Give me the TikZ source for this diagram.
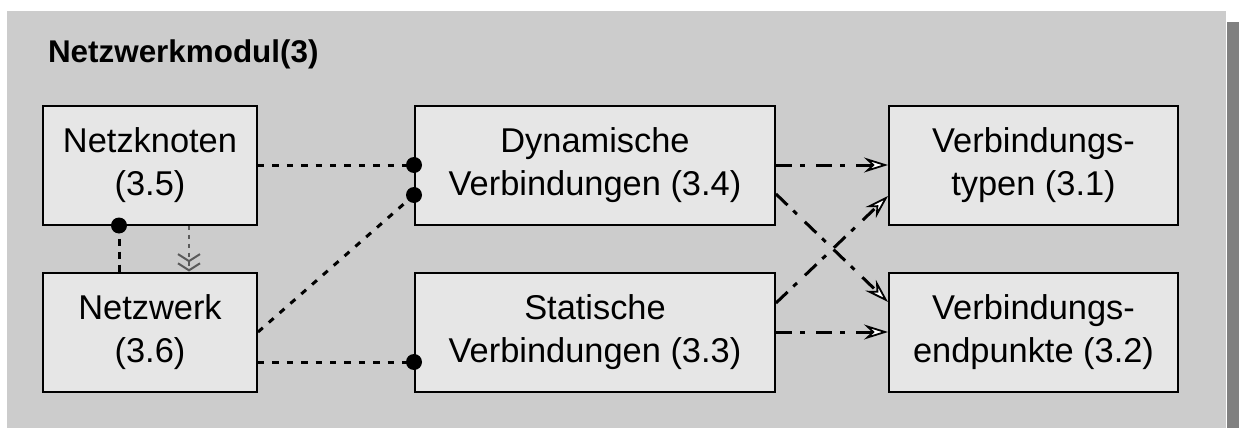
\documentclass[tikz,border=0pt]{standalone}
\usepackage{fontspec}
\setmainfont{Liberation Sans}
\usetikzlibrary{arrows.meta,calc}
\definecolor{panel}{HTML}{CCCCCC}
\definecolor{boxfill}{HTML}{E6E6E6}
\definecolor{shadowgray}{HTML}{808080}
\definecolor{hintgray}{HTML}{5A5A5A}
\begin{document}
\begin{tikzpicture}[x=0.5pt,y=-0.5pt,
  module/.style={draw=black, line width=1pt, fill=boxfill, inner sep=0pt,
    align=center, font=\fontsize{17.2}{21.5}\selectfont,
    minimum height=59.5pt},
  link/.style={line width=1.5pt, dash pattern=on 3.2pt off 4pt},
  joint/.style={line width=1.5pt, dash pattern=on 3.5pt off 3pt},
  usedby/.style={line width=1.5pt, dash pattern=on 8pt off 4pt on 2.5pt off 5.5pt,
    -{Stealth[open, fill=white, line width=0.9pt, length=12pt, width=7.5pt, inset=4pt]}},
  hint/.style={draw=hintgray, line width=1.2pt, dash pattern=on 2.2pt off 2.3pt,
    -{Straight Barb[length=3.5pt,width=11pt,line width=1pt] Straight Barb[length=3.5pt,width=11pt,line width=1pt]}},
  knob/.style={fill=black}
]
\useasboundingbox (0,0) rectangle (1239,428);
% panel with shadow on the right
\fill[shadowgray] (1227,22) rectangle (1239,428);
\fill[panel] (7,11) rectangle (1226,428);

\node[anchor=base west, font=\bfseries\fontsize{15.7}{19}\selectfont] (title) at (41,62) {Netzwerkmodul(3)};

% modules
\node[module, minimum width=107pt] (nk) at (150,165) {Netzknoten\\(3.5)};
\node[module, minimum width=107pt] (nw) at (150,332) {Netzwerk\\(3.6)};
\node[module, minimum width=180pt] (dyn) at (595,165) {Dynamische\\Verbindungen (3.4)};
\node[module, minimum width=180pt] (stat) at (595,332) {Statische\\Verbindungen (3.3)};
\node[module, minimum width=144.5pt] (vtyp) at (1033.5,165) {Verbindungs-\\typen (3.1)};
\node[module, minimum width=144.5pt] (vend) at (1033.5,332) {Verbindungs-\\endpunkte (3.2)};

% attachment points
\coordinate (dynlow) at ($(dyn.west)+(0,30)$);
\coordinate (nwlow) at ($(nw.east)+(0,30)$);
\coordinate (statlow) at ($(stat.west)+(0,30)$);
\coordinate (dynout) at ($(dyn.east)+(0,29)$);
\coordinate (statout) at ($(stat.east)+(0,-29)$);
\coordinate (vtypin) at ($(vtyp.west)+(0,31)$);
\coordinate (vendin) at ($(vend.west)+(0,-30)$);
\coordinate (nkjoint) at ($(nk.south)+(-31,0)$);
\coordinate (nkhint) at ($(nk.south)+(39,0)$);

% dotted links ending in knobs
\draw[link] (nk.east) -- (dyn.west);
\draw[link] (nw.east) -- (dynlow);
\draw[link] (nwlow) -- (statlow);
\fill[knob] (dyn.west) circle[radius=4pt];
\fill[knob] (dynlow) circle[radius=4pt];
\fill[knob] (statlow) circle[radius=4pt];

% Netzknoten -- Netzwerk
\draw[joint] (nkjoint) -- (nkjoint |- nw.north);
\fill[knob] (nkjoint) circle[radius=4pt];
\draw[hint] (nkhint) -- (nkhint |- nw.north);

% dash-dot arrows
\draw[usedby] (dyn.east) -- (vtyp.west);
\draw[usedby] (dynout) -- (vendin);
\draw[usedby] (statout) -- (vtypin);
\draw[usedby] (stat.east) -- (vend.west);
\end{tikzpicture}
\end{document}
